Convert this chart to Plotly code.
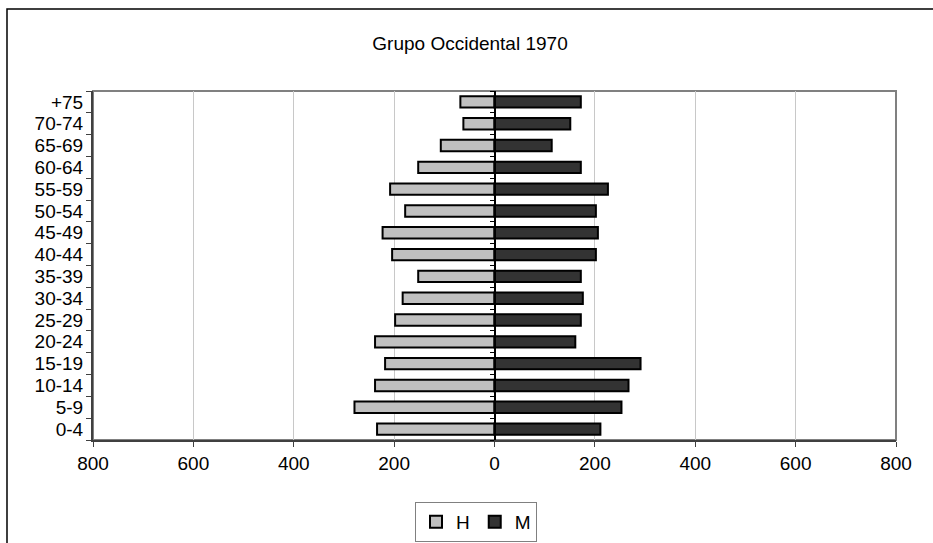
import plotly.graph_objects as go

# Age groups, youngest at the bottom
ages = ["0-4", "5-9", "10-14", "15-19", "20-24", "25-29", "30-34", "35-39",
        "40-44", "45-49", "50-54", "55-59", "60-64", "65-69", "70-74", "+75"]

# Men (H) and women (M) per age group
hombres = [234, 279, 238, 218, 238, 198, 183, 152, 204, 223, 178, 208, 152, 107, 62, 68]
mujeres = [211, 253, 267, 291, 161, 172, 176, 172, 202, 206, 202, 226, 172, 114, 151, 172]

x_ticks = [-800, -600, -400, -200, 0, 200, 400, 600, 800]
x_labels = [str(abs(v)) for v in x_ticks]

FONT = "Liberation Sans, Arial, sans-serif"

fig = go.Figure()
fig.add_trace(go.Bar(
    y=ages, x=[-v for v in hombres], name="H", orientation="h",
    marker=dict(color="#c0c0c0", line=dict(color="black", width=2)),
    yaxis="y",
))
fig.add_trace(go.Bar(
    y=ages, x=mujeres, name="M", orientation="h",
    marker=dict(color="#333333", line=dict(color="black", width=2)),
    yaxis="y2",
))

fig.update_layout(
    width=933, height=543,
    margin=dict(l=93, r=37, t=91, b=103, autoexpand=False),
    paper_bgcolor="white", plot_bgcolor="white",
    font=dict(family=FONT, size=19, color="black"),
    barmode="overlay", bargap=0.48,
    title=dict(text="Grupo Occidental 1970", x=(470 / 933), xref="container",
               y=1 - 43 / 543, yref="container", yanchor="middle",
               xanchor="center", font=dict(size=19)),
    xaxis=dict(range=[-800, 800], tickmode="array", tickvals=x_ticks,
               ticktext=x_labels,
               showgrid=True, gridcolor="#c8c8c8", gridwidth=1,
               zeroline=False, showline=True, linecolor="#404040", linewidth=2,
               ticks="outside", ticklen=5, tickcolor="#404040", tickwidth=1,
               tickfont=dict(size=19), fixedrange=True),
    yaxis=dict(type="category", categoryorder="array", categoryarray=ages,
               tickmode="array", tickvals=ages, ticktext=ages,
               range=[-0.5, 15.5], showline=True, linecolor="#404040",
               linewidth=2, ticks="outside", tickson="boundaries", ticklen=5,
               tickcolor="#404040", showgrid=False, zeroline=False,
               tickfont=dict(size=19), ticklabelstandoff=4),
    yaxis2=dict(type="category", categoryorder="array", categoryarray=ages,
                tickmode="array", tickvals=ages,
                range=[-0.5, 15.5], overlaying="y", anchor="free",
                position=0.5, showline=True, linecolor="black", linewidth=1.5,
                ticks="outside", tickson="boundaries", ticklen=4,
                tickcolor="black", showticklabels=False, showgrid=False,
                zeroline=False),
    legend=dict(orientation="h", x=(476 - 93) / 803, xanchor="center",
                y=(440 - 522) / 349, yanchor="middle",
                bordercolor="#808080", borderwidth=1, bgcolor="white",
                font=dict(size=19), itemwidth=30, tracegroupgap=0),
    showlegend=True,
    shapes=[
        # plot area frame
        dict(type="rect", xref="paper", yref="paper", x0=0, x1=1, y0=0, y1=1,
             line=dict(color="#808080", width=2), layer="below"),
        # outer chart frame
        dict(type="path", xref="paper", yref="paper",
             path="M -0.1071,-0.30 L -0.1071,1.2350 L 1.06,1.2350",
             line=dict(color="black", width=1.5)),
    ],
)

fig.write_html("out.html")
